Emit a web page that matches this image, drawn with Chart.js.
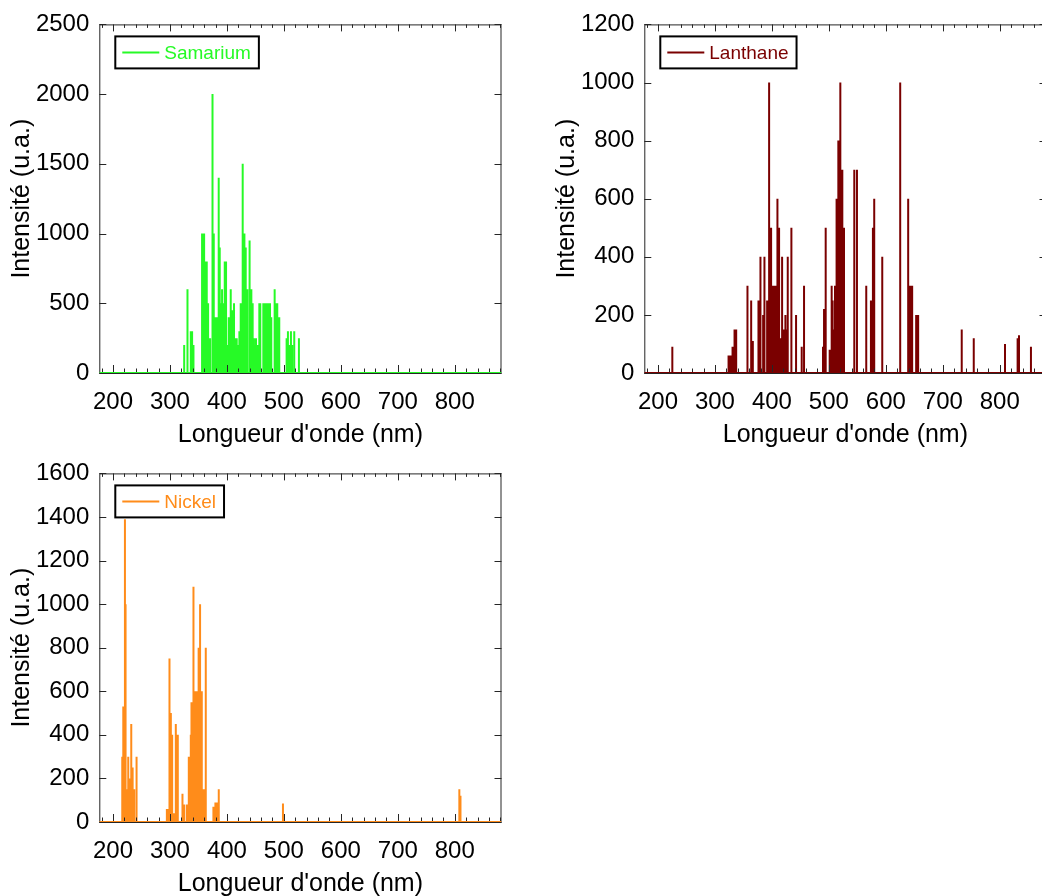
<!DOCTYPE html>
<html>
<head>
<meta charset="utf-8">
<script src="https://cdn.jsdelivr.net/npm/chart.js@4.4.0/dist/chart.umd.min.js"></script>
<style>
  html, body { margin: 0; padding: 0; background: #fff; width: 1042px; height: 896px; overflow: hidden; position: relative; }
  canvas { position: absolute; }
</style>
</head>
<body>
<canvas id="samarium" width="521" height="450" style="left:0px;top:0px"></canvas>
<canvas id="lanthane" width="521" height="450" style="left:545px;top:0px"></canvas>
<canvas id="nickel" width="521" height="450" style="left:0px;top:449px"></canvas>
<script>
/* spectres d'emission : raies (nm) et intensites (u.a.) */

const xMin = 176;
const xMax = 882;
const xTicks = [200, 300, 400, 500, 600, 700, 800];

const samariumNm = [325, 330.8, 336.6, 338.9, 341.3, 356.4, 358.8, 360, 362.3, 364.6, 367, 370.5, 374, 375.2, 376.9, 378.6, 380.4,
  382.1, 383.8, 385.6, 387.4, 389.1, 391.5, 393.8, 396.2, 398.5, 400.8, 403.2, 405, 406.7, 408.5, 410.2, 412.5, 414.8, 417.2, 419.5, 421.9,
  424.2, 427.7, 430, 431.2, 433, 435.9, 438.8, 440.5, 442.9, 445.2, 447.5, 449.3, 451.1, 453, 454.6, 456.9, 458.6, 463.9, 466.2,
  468.6, 470.9, 473.2, 475.6, 477.9, 483.8, 485.5, 488.4, 491.9, 504.8, 507.1, 509.5, 512.4, 514.5, 518.2, 526.4];
const samariumInt = [200, 600, 300, 300, 200, 1000, 1000, 1000, 800, 800, 500, 250, 2000, 1500, 1000, 400, 250,
  400, 300, 1400, 900, 500, 600, 500, 800, 800, 200, 400, 250, 600, 300, 450, 500, 250, 250, 200, 300,
  500, 1500, 1000, 800, 900, 600, 950, 600, 600, 500, 250, 200, 250, 200, 200, 500, 500, 500, 500,
  500, 500, 500, 500, 400, 600, 500, 500, 400, 250, 300, 200, 300, 200, 300, 250];
const samariumYTicks = [0, 500, 1000, 1500, 2000, 2500];

const lanthaneNm = [225.2, 323.9, 327.4, 330.9, 334.4, 337.3, 357.1, 363.6, 366.5, 376.4, 379.9, 384.6, 386.9, 391.6, 395.1,
  396.9, 398.6, 400.4, 402.1, 405, 407.4, 409.7, 412.6, 415.5, 417.9, 420.2, 422, 423.7, 425.8, 427.8, 434.2, 442.4, 452.3, 456.4,
  489.7, 491.5, 494.4, 501.4, 504.9, 506.6, 508.5, 510.7, 512.5, 514.2, 516.6, 520.1, 523.6, 526.5, 544.6, 549.3, 565.6, 573.8,
  577.3, 579.6, 593.7, 625.2, 639.2, 642.7, 646.2, 653.2, 656.7, 733.2, 754.3, 809.2, 831.3, 833.7, 854.7];
const lanthaneInt = [90, 60, 60, 90, 150, 150, 300, 250, 110, 250, 400, 200, 400, 250, 1000,
  300, 500, 300, 300, 300, 300, 600, 500, 120, 400, 150, 120, 200, 150, 400, 500, 200, 90, 300,
  90, 220, 500, 80, 300, 250, 150, 300, 250, 600, 800, 1000, 700, 500, 700, 700, 300, 250,
  500, 600, 400, 1000, 600, 300, 300, 200, 200, 150, 120, 100, 120, 130, 90];
const lanthaneYTicks = [0, 200, 400, 600, 800, 1000, 1200];

const nickelNm = [216.3, 218.1, 221, 222.1, 224.5, 226.8, 229.1, 232.1, 233.8, 235, 237.3, 241.4, 294.6, 296.9, 299.2, 301.6,
  303.9, 307.4, 310.3, 313.8, 322, 324.9, 329.6, 333.1, 336.6, 337.8, 341.3, 343.6, 346, 348.3, 350, 350.6, 352.9, 355.9,
  359.4, 362.9, 376.3, 379.8, 382.2, 385.7, 498.4, 808, 810];
const nickelInt = [300, 530, 1390, 1000, 150, 300, 200, 450, 250, 150, 150, 300, 60, 60, 750, 500,
  400, 40, 450, 400, 130, 80, 80, 300, 400, 550, 1080, 600, 600, 600, 800, 700, 1000, 600,
  150, 800, 70, 90, 90, 150, 85, 150, 120];
const nickelYTicks = [0, 200, 400, 600, 800, 1000, 1200, 1400, 1600];

const fontFamily = '"Liberation Sans", Arial, sans-serif';

function spectrum(nm, intensity) {
  const pts = [{ x: xMin, y: 0 }];
  nm.forEach(function(w, i) {
    pts.push({ x: w, y: 0 }, { x: w, y: intensity[i] }, { x: w, y: 0 });
  });
  pts.push({ x: xMax, y: 0 });
  return pts;
}

/* cadre + graduations vers l'interieur (style matlab) */
const axesBox = {
  id: 'axesBox',
  beforeDatasetsDraw(chart) {
    const { ctx, chartArea: a } = chart;
    ctx.save();
    ctx.strokeStyle = '#262626';
    ctx.lineWidth = 1;
    ctx.strokeRect(a.left + 0.5, a.top + 0.5, a.right - a.left - 1, a.bottom - a.top);
    ctx.restore();
  },
  afterDatasetsDraw(chart) {
    const { ctx, chartArea: a, scales: { x, y } } = chart;
    ctx.save();
    ctx.strokeStyle = '#262626';
    ctx.lineWidth = 1;
    ctx.beginPath();
    for (let v = 180; v <= xMax; v += 20) {
      const px = Math.round(x.getPixelForValue(v)) + 0.5;
      const len = v % 100 === 0 ? 7 : 3.5;
      ctx.moveTo(px, a.top); ctx.lineTo(px, a.top + len);
      ctx.moveTo(px, a.bottom - 1); ctx.lineTo(px, a.bottom - 1 - len);
    }
    y.ticks.forEach(function(t) {
      const py = Math.round(y.getPixelForValue(t.value)) + 0.5;
      ctx.moveTo(a.left, py); ctx.lineTo(a.left + 7, py);
      ctx.moveTo(a.right, py); ctx.lineTo(a.right - 7, py);
    });
    ctx.stroke();
    ctx.restore();
  }
};

/* legende encadree en haut a gauche */
const boxLegend = {
  id: 'boxLegend',
  afterDraw(chart) {
    const { ctx, chartArea: a } = chart;
    const ds = chart.data.datasets[0];
    ctx.save();
    ctx.font = '19px ' + fontFamily;
    const tw = ctx.measureText(ds.label).width;
    const bx = a.left + 16, by = a.top + 12, bw = 49 + tw + 8, bh = 32;
    ctx.fillStyle = '#fff';
    ctx.fillRect(bx, by, bw, bh);
    ctx.strokeStyle = '#000';
    ctx.lineWidth = 2;
    ctx.strokeRect(bx, by, bw, bh);
    ctx.strokeStyle = ds.borderColor;
    ctx.beginPath();
    ctx.moveTo(bx + 7, by + bh / 2);
    ctx.lineTo(bx + 44, by + bh / 2);
    ctx.stroke();
    ctx.fillStyle = ds.borderColor;
    ctx.textBaseline = 'middle';
    ctx.fillText(ds.label, bx + 49, by + bh / 2 + 1);
    ctx.restore();
  }
};

function drawSpectrum(id, label, color, nm, intensity, yTicks) {
  const ctx = document.getElementById(id);
  new Chart(ctx, {
    type: 'line',
    data: {
      datasets: [
        {
          label: label,
          data: spectrum(nm, intensity),
          borderColor: color,
          borderWidth: 2,
          pointRadius: 0,
          tension: 0,
          fill: false
        }
      ]
    },
    options: {
      responsive: false,
      animation: false,
      layout: { padding: { left: 0, top: 22, right: 19.5, bottom: 0 } },
      plugins: { legend: { display: false }, tooltip: { enabled: false } },
      scales: {
        x: {
          type: 'linear',
          min: xMin,
          max: xMax,
          afterBuildTicks: function(s) { s.ticks = xTicks.map(v => ({ value: v })); },
          afterFit: function(s) { s.height = 77; },
          grid: { display: false, drawTicks: false },
          border: { display: false },
          ticks: { autoSkip: false, maxRotation: 0, padding: 15, color: '#000',
                   callback: v => String(v), font: { family: fontFamily, size: 24 } },
          title: { display: true, text: "Longueur d'onde (nm)", color: '#000', padding: { top: 0, bottom: 0 },
                   font: { family: fontFamily, size: 25 } }
        },
        y: {
          min: 0,
          max: yTicks[yTicks.length - 1],
          afterBuildTicks: function(s) { s.ticks = yTicks.map(v => ({ value: v })); },
          afterFit: function(s) { s.width = 99.3; },
          grid: { display: false, drawTicks: false },
          border: { display: false },
          ticks: { autoSkip: false, padding: 10, color: '#000',
                   callback: v => String(v), font: { family: fontFamily, size: 24 } },
          title: { display: true, text: 'Intensité (u.a.)', color: '#000', padding: { top: 7, bottom: 0 },
                   font: { family: fontFamily, size: 25 } }
        }
      }
    },
    plugins: [axesBox, boxLegend]
  });
}

drawSpectrum('samarium', 'Samarium', 'rgb(38, 250, 38)', samariumNm, samariumInt, samariumYTicks);
drawSpectrum('lanthane', 'Lanthane', 'rgb(122, 0, 0)', lanthaneNm, lanthaneInt, lanthaneYTicks);
drawSpectrum('nickel', 'Nickel', 'rgb(255, 140, 26)', nickelNm, nickelInt, nickelYTicks);
</script>
</body>
</html>
